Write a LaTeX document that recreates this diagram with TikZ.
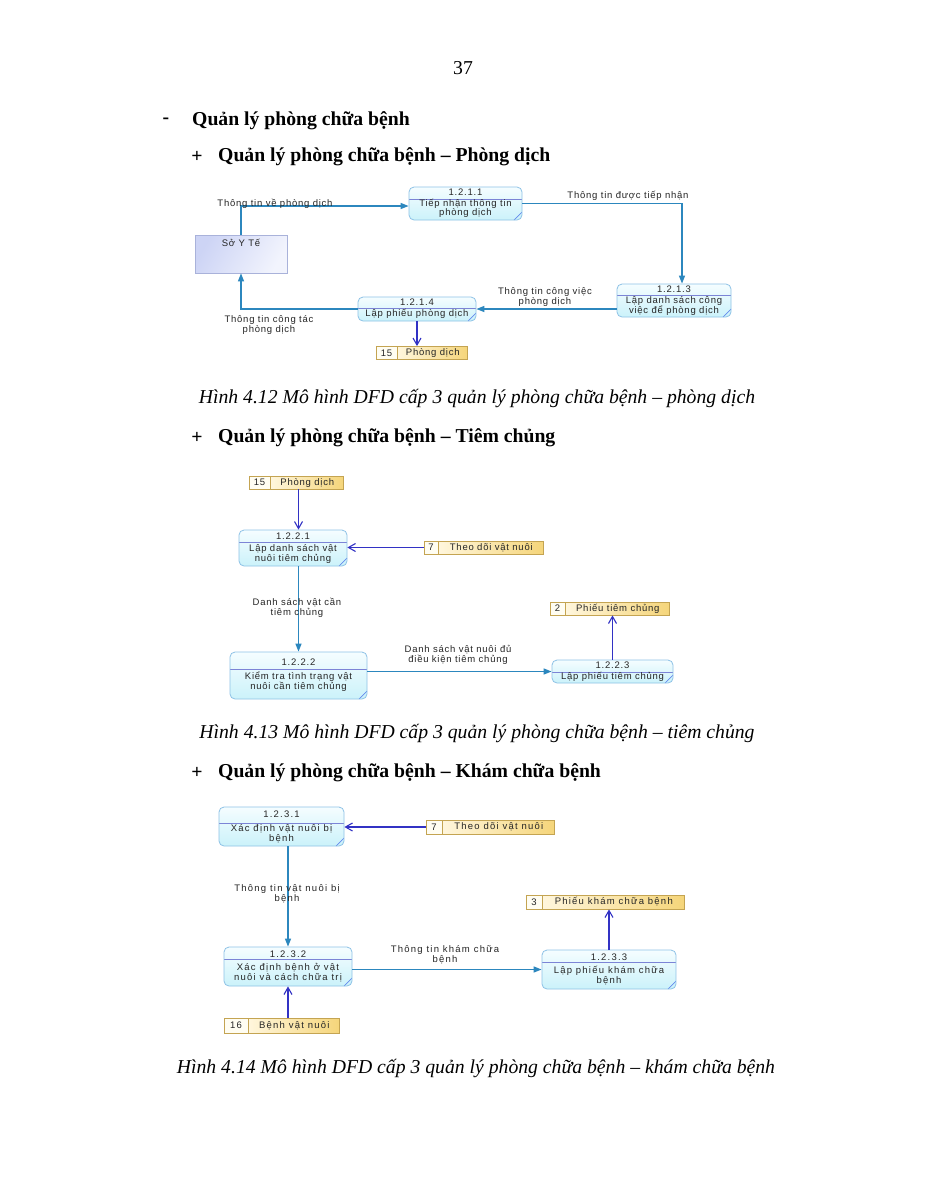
\documentclass[tikz,border=0pt]{standalone}
\usepackage{fontspec}
\setmainfont{Liberation Serif}
\newfontfamily\dfdfont[LetterSpace=8]{Liberation Sans}
\newfontfamily\dfdwide[LetterSpace=13]{Liberation Sans}
\usetikzlibrary{positioning,arrows.meta,calc}
\definecolor{ProcLine}{HTML}{8EC2E6}
\definecolor{ProcTop}{HTML}{F5FDFF}
\definecolor{ProcBot}{HTML}{CBF2FA}
\definecolor{ProcSep}{HTML}{7C84D6}
\definecolor{EntLine}{HTML}{A9B2DA}
\definecolor{EntDark}{HTML}{CDD4F5}
\definecolor{EntLight}{HTML}{F2F4FD}
\definecolor{StLine}{HTML}{C4A452}
\definecolor{StNum}{HTML}{FFFDF2}
\definecolor{StLeft}{HTML}{FFF6DC}
\definecolor{StRight}{HTML}{F5D57A}
\definecolor{FlowBlue}{HTML}{2C87BE}
\definecolor{StoreBlue}{HTML}{3232C4}
\definecolor{LblGray}{HTML}{262626}

\begin{document}
\begin{tikzpicture}[x=1pt, y=-1pt,
  idband/.store in=\idband, idband=12pt,
  proc/.style={draw=ProcLine, line width=0.8pt, rounded corners=5pt,
    top color=ProcTop, bottom color=ProcBot, align=center, inner sep=0pt,
    text=black!85, font=\dfdfont\fontsize{9.5}{9}\selectfont,
    path picture={
      \draw[ProcSep, line width=0.9pt]
        ([yshift=-\idband]path picture bounding box.north west) --
        ([yshift=-\idband]path picture bounding box.north east);
      \draw[ProcLine!70!blue, line width=0.7pt]
        ([xshift=-8pt]path picture bounding box.south east) --
        ([yshift=8pt]path picture bounding box.south east);
    }},
  wide/.style={font=\dfdwide\fontsize{9.5}{10}\selectfont},
  ent/.style={draw=EntLine, line width=0.7pt, left color=EntDark, right color=EntLight,
    shading angle=60, inner xsep=0pt, inner ysep=3pt, text height=8pt, text depth=24pt,
    text=black!85, font=\dfdfont\fontsize{9.5}{9}\selectfont},
  stnum/.style={draw=StLine, line width=0.8pt, fill=StNum, minimum height=13pt, inner sep=0pt,
    text=black!85, font=\dfdfont\fontsize{9.5}{9}\selectfont},
  stlbl/.style={draw=StLine, line width=0.8pt, left color=StLeft, right color=StRight,
    minimum height=13pt, inner sep=0pt, text=black!85, font=\dfdfont\fontsize{9.5}{9}\selectfont},
  lbl/.style={align=center, inner sep=0pt, text=LblGray, font=\dfdfont\fontsize{9.5}{9.5}\selectfont},
  flow/.style={draw=FlowBlue, line width=1.3pt, -{Triangle[length=8pt,width=6pt]}},
  stflow/.style={draw=StoreBlue, line width=1.1pt, -{Straight Barb[length=7pt,width=8pt]}},
  head/.style={anchor=west, inner sep=0pt, font=\bfseries\fontsize{19.7}{23}\selectfont},
  bul/.style={inner sep=0pt, font=\bfseries\fontsize{19.7}{23}\selectfont},
  capt/.style={inner sep=0pt, font=\itshape\fontsize{19.7}{23}\selectfont}]
\path[use as bounding box, fill=white] (0,0) rectangle (927,1200);

% page text
\node[inner sep=0pt, font=\fontsize{19.7}{23}\selectfont] (pagenum) at (463,68) {37};
\node[bul] (dash) at (166,121) {-};
\node[head] (h1) at (192,121) {Quản lý phòng chữa bệnh};
\node[bul] (plus1) at (197,157) {+};
\node[head] (h2) at (218,157) {Quản lý phòng chữa bệnh – Phòng dịch};

% phong dich
\node[proc, minimum width=113pt, minimum height=33pt] (p1) at (465.5,203.5) {1.2.1.1\\[2pt]Tiếp nhận thông tin\\phòng dịch};
\node[ent, minimum width=92pt] (soyte) at (241,254) {Sở Y Tế};
\node[proc, minimum width=114pt, minimum height=33pt, idband=11pt] (p3) at (674,300.5) {1.2.1.3\\[2pt]Lập danh sách công\\việc để phòng dịch};
\node[proc, minimum width=118pt, minimum height=24pt, idband=11pt] (p4) at (417,309) {1.2.1.4\\[2pt]Lập phiếu phòng dịch};
\node[stnum, minimum width=21pt] (d15n) at (386.5,353) {15};
\node[stlbl, minimum width=70pt, right=0pt of d15n] (d15) {Phòng dịch};

\draw[flow] (soyte.north) |- ([yshift=-2.5pt]p1.west);
\draw[flow] (p1.east) -| ([xshift=8pt]p3.north);
\draw[flow] (p3.west |- p4.east) -- (p4.east);
\draw[flow] (p4.west) -| (soyte.south);
\draw[stflow] (p4.south) -- (p4.south |- d15.north);

\node[lbl] (f1) at (275,204) {Thông tin về phòng dịch};
\node[lbl] (f2) at (628,196) {Thông tin được tiếp nhận};
\node[lbl] (f3) at (545,297) {Thông tin công việc\\phòng dịch};
\node[lbl] (f4) at (269,325) {Thông tin công tác\\phòng dịch};

\node[capt] (cap1) at (477,398) {Hình 4.12 Mô hình DFD cấp 3 quản lý phòng chữa bệnh – phòng dịch};
\node[bul] (plus2) at (197,438) {+};
\node[head] (h3) at (218,438) {Quản lý phòng chữa bệnh – Tiêm chủng};

% tiem chung
\node[stnum, minimum width=21pt] (t15n) at (259.5,482.5) {15};
\node[stlbl, minimum width=73pt, right=0pt of t15n] (t15) {Phòng dịch};
\node[proc, minimum width=108pt, minimum height=36pt] (q1) at (293,548) {1.2.2.1\\[3pt]Lập danh sách vật\\nuôi tiêm chủng};
\node[stnum, minimum width=14pt] (t7n) at (431,547.5) {7};
\node[stlbl, minimum width=105pt, right=0pt of t7n] (t7) {Theo dõi vật nuôi};
\node[proc, minimum width=137pt, minimum height=47pt, idband=17pt] (q2) at (298.5,675.5) {1.2.2.2\\[5pt]Kiểm tra tình trạng vật\\nuôi cần tiêm chủng};
\node[proc, minimum width=121pt, minimum height=23pt] (q3) at (612.5,671.5) {1.2.2.3\\[2pt]Lập phiếu tiêm chủng};
\node[stnum, minimum width=15pt] (t2n) at (557.5,608.5) {2};
\node[stlbl, minimum width=104pt, right=0pt of t2n] (t2) {Phiếu tiêm chủng};

\draw[stflow] (q2.north |- t15.south) -- (q2.north |- q1.north);
\draw[stflow] (t7n.west) -- (t7n.west -| q1.east);
\draw[flow] (q2.north |- q1.south) -- (q2.north);
\draw[flow] (q3.west -| q2.east) -- (q3.west);
\draw[stflow] (q3.north) -- (q3.north |- t2.south);

\node[lbl] (g1) at (297,608) {Danh sách vật cần\\tiêm chủng};
\node[lbl] (g2) at (458,655) {Danh sách vật nuôi đủ\\điều kiện tiêm chủng};

\node[capt] (cap2) at (477,733) {Hình 4.13 Mô hình DFD cấp 3 quản lý phòng chữa bệnh – tiêm chủng};
\node[bul] (plus3) at (197,773) {+};
\node[head] (h4) at (218,773) {Quản lý phòng chữa bệnh – Khám chữa bệnh};

% kham chua benh
\node[proc, wide, minimum width=125pt, minimum height=39pt, idband=16pt] (r1) at (281.5,826.5) {1.2.3.1\\[4pt]Xác định vật nuôi bị\\bệnh};
\node[stnum, wide, minimum width=16pt, minimum height=14pt] (k7n) at (434,827) {7};
\node[stlbl, wide, minimum width=112pt, minimum height=14pt, right=0pt of k7n] (k7) {Theo dõi vật nuôi};
\node[proc, wide, minimum width=128pt, minimum height=39pt] (r2) at (288,966.5) {1.2.3.2\\[3pt]Xác định bệnh ở vật\\nuôi và cách chữa trị};
\node[proc, wide, minimum width=134pt, minimum height=39pt] (r3) at (609,969.5) {1.2.3.3\\[3pt]Lập phiếu khám chữa\\bệnh};
\node[stnum, wide, minimum width=16pt, minimum height=14pt] (k3n) at (534,902) {3};
\node[stlbl, wide, minimum width=142pt, minimum height=14pt, right=0pt of k3n] (k3) {Phiếu khám chữa bệnh};
\node[stnum, wide, minimum width=24pt, minimum height=15pt] (k16n) at (236,1025.5) {16};
\node[stlbl, wide, minimum width=91pt, minimum height=15pt, right=0pt of k16n] (k16) {Bệnh vật nuôi};

\draw[stflow] (k7n.west) -- (k7n.west -| r1.east);
\draw[flow] (r2.north |- r1.south) -- (r2.north);
\draw[flow] (r3.west -| r2.east) -- (r3.west);
\draw[stflow] (r3.north) -- (r3.north |- k3.south);
\draw[stflow] (r2.south |- k16.north) -- (r2.south);

\node[lbl, wide] (k1) at (287,894) {Thông tin vật nuôi bị\\bệnh};
\node[lbl, wide] (k2) at (445,955) {Thông tin khám chữa\\bệnh};

\node[capt] (cap3) at (476,1068) {Hình 4.14 Mô hình DFD cấp 3 quản lý phòng chữa bệnh – khám chữa bệnh};
\end{tikzpicture}
\end{document}
